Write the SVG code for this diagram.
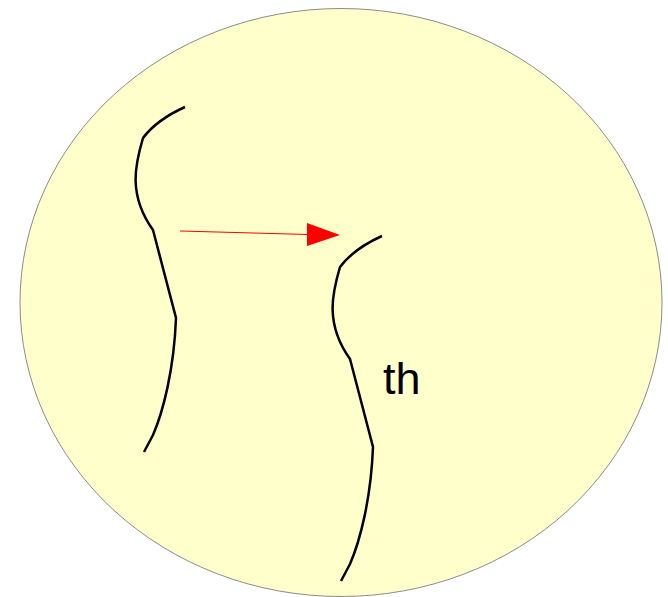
<svg xmlns="http://www.w3.org/2000/svg" width="668" height="597" viewBox="0 0 668 597">
<style>
.curve{fill:none;stroke:#000;stroke-width:2.5;stroke-linejoin:miter}
.lbl{font-family:"Liberation Sans",Arial,sans-serif;font-size:45px;fill:#000}
</style>
<defs>
<path id="shape" d="M185,107 C165,116 152,126 143,138 C135,165 128,195 153,230 L176,318 C174,370 163,412 153,435 L144,452"/>
</defs>
<g id="bg">
<ellipse cx="341" cy="302.5" rx="321" ry="294" fill="#ffffcc" stroke="#8c8c8c" stroke-width="1"/>
</g>
<g id="curve1"><use href="#shape" class="curve"/></g>
<g id="curve2"><use href="#shape" class="curve" transform="translate(197,129)"/></g>
<g id="label"><text class="lbl" x="383" y="394">th</text></g>
<g id="connectors">
<line x1="180" y1="231" x2="308" y2="234.5" stroke="#ff0000" stroke-width="1"/>
<polygon points="307,223 340,235 307,246" fill="#ff0000"/>
</g>
</svg>
